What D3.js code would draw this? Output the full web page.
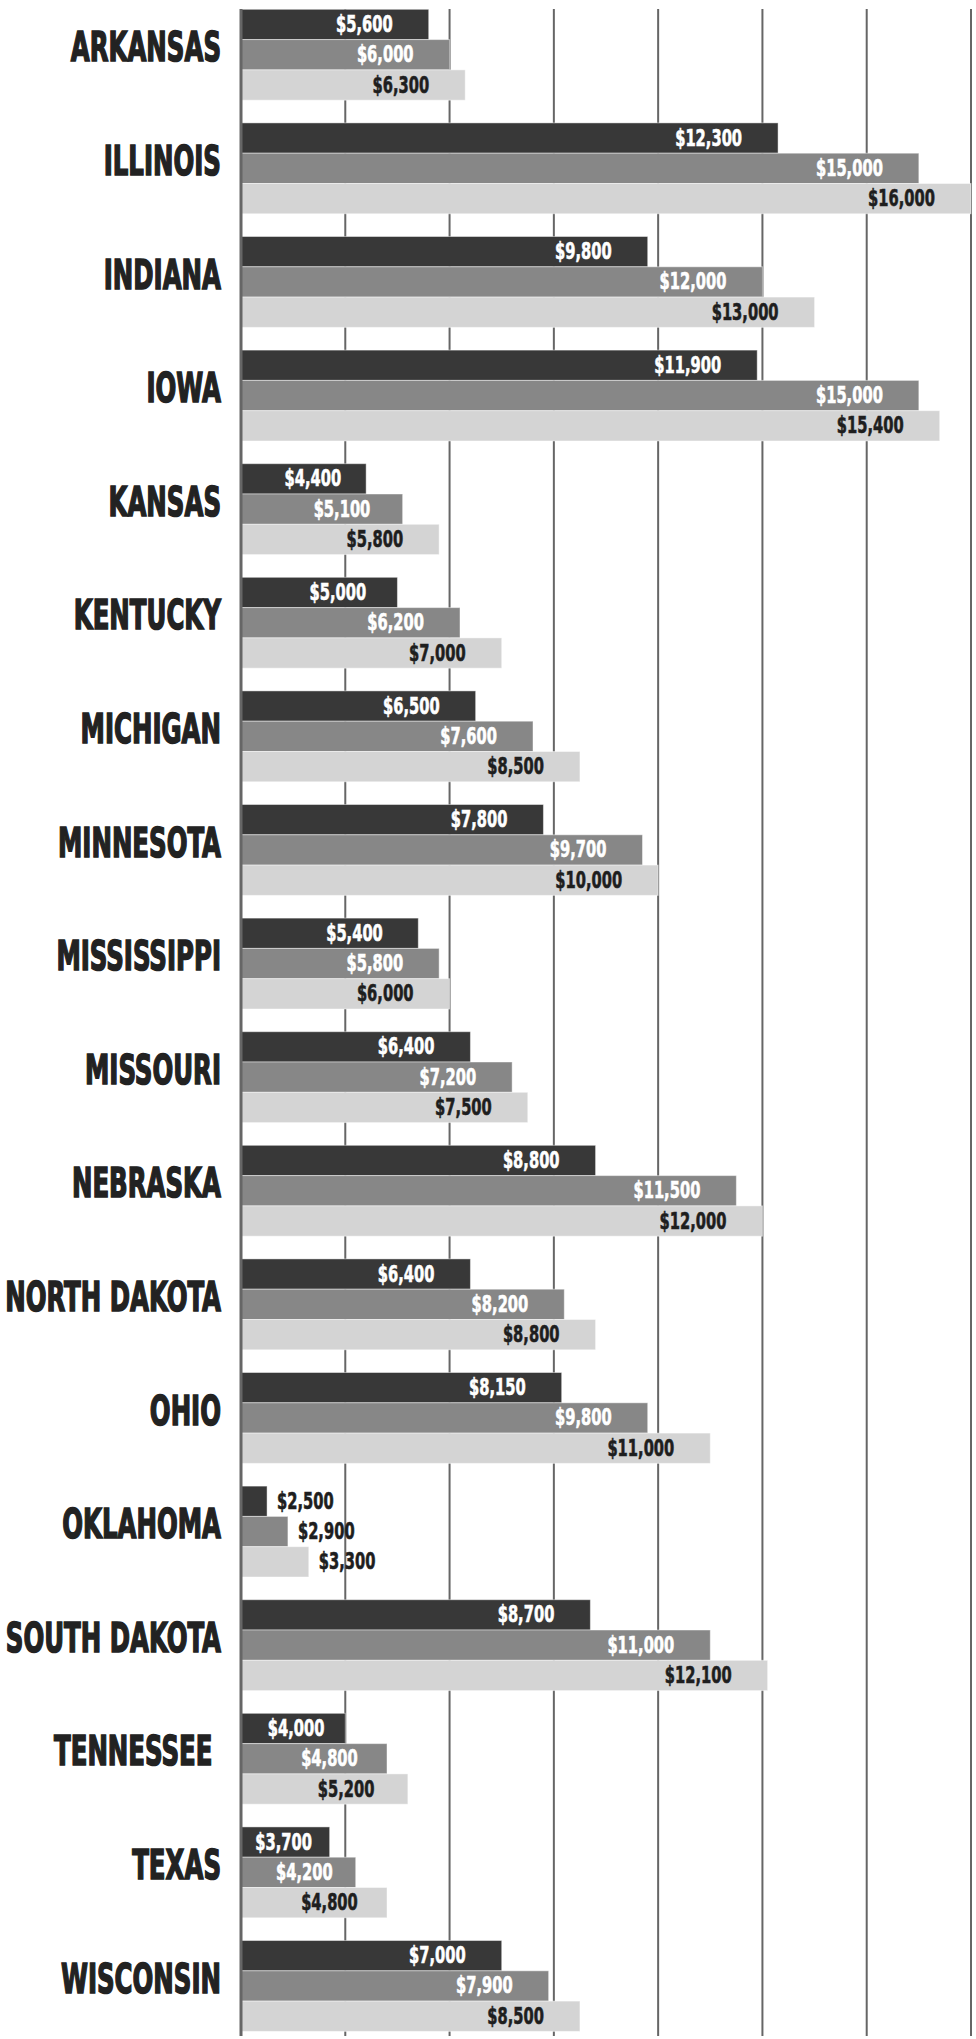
<!DOCTYPE html>
<html>
<head>
<meta charset="utf-8">
<script src="https://cdn.jsdelivr.net/npm/d3@7"></script>
<style>
  body { margin: 0; background: #fff; }
  svg { display: block; }
  text { white-space: pre; }
</style>
</head>
<body>
<svg id="chart" width="976" height="2039"></svg>
<script>
const states = ['ARKANSAS', 'ILLINOIS', 'INDIANA', 'IOWA', 'KANSAS', 'KENTUCKY', 'MICHIGAN',
    'MINNESOTA', 'MISSISSIPPI', 'MISSOURI', 'NEBRASKA', 'NORTH DAKOTA', 'OHIO', 'OKLAHOMA',
    'SOUTH DAKOTA', 'TENNESSEE ', 'TEXAS', 'WISCONSIN'];
const seriesDark = [5600, 12300, 9800, 11900, 4400, 5000, 6500, 7800, 5400, 6400, 8800, 6400, 8150, 2500, 8700, 4000, 3700, 7000];
const seriesMid = [6000, 15000, 12000, 15000, 5100, 6200, 7600, 9700, 5800, 7200, 11500, 8200, 9800, 2900, 11000, 4800, 4200, 7900];
const seriesLight = [6300, 16000, 13000, 15400, 5800, 7000, 8500, 10000, 6000, 7500, 12000, 8800, 11000, 3300, 12100, 5200, 4800, 8500];
const gridTicks = [4000, 6000, 8000, 10000, 12000, 14000, 16000];

const build = () => {
    const svg = d3.select('#chart');

    const series = [seriesDark, seriesMid, seriesLight];
    const fills = ['#383838', '#878787', '#d4d4d4'];
    const textFills = ['#ffffff', '#ffffff', '#1e1e1e'];
    const font = '"Liberation Sans Narrow", "DejaVu Sans Condensed", sans-serif';

    const rows = [];
    states.forEach((s, i) => {
        series.forEach((vals, k) => rows.push({state: s, k: k, value: vals[i]}));
    });

    const xScale = d3.scaleLinear()
        .domain([2000, 16000])
        .range([241, 971]);

    const yScale = d3.scaleBand()
        .domain(states)
        .range([9.3, 2031.4])
        .paddingInner(0.2)
        .paddingOuter(0);

    const subScale = d3.scaleBand()
        .domain([0, 1, 2])
        .range([0, yScale.bandwidth()]);

    // grid lines
    svg.append('g')
        .selectAll('line')
        .data(gridTicks)
        .enter()
        .append('line')
        .attr('x1', d => xScale(d))
        .attr('x2', d => xScale(d))
        .attr('y1', 9)
        .attr('y2', 2036)
        .attr('stroke', '#666')
        .attr('stroke-width', 2);

    // bars
    svg.append('g')
        .selectAll('rect')
        .data(rows)
        .enter()
        .append('rect')
        .attr('x', xScale(2000))
        .attr('y', d => yScale(d.state) + subScale(d.k))
        .attr('width', d => xScale(d.value) - xScale(2000))
        .attr('height', subScale.bandwidth())
        .attr('fill', d => fills[d.k])
        .attr('stroke', 'rgba(255,255,255,0.45)')
        .attr('stroke-width', 1);

    // axis line
    svg.append('line')
        .attr('x1', 241).attr('x2', 241)
        .attr('y1', 9).attr('y2', 2036)
        .attr('stroke', '#666')
        .attr('stroke-width', 3);

    // value labels
    const fmt = d3.format(',');
    const labelX = d => {
        const w = xScale(d.value) - xScale(2000);
        if (d.value < 3500) return xScale(d.value) + 10;
        return xScale(d.value) - Math.min(0.2 * w, 36);
    };
    svg.append('g')
        .selectAll('text')
        .data(rows)
        .enter()
        .append('text')
        .attr('transform', d => 'translate(' + labelX(d) + ',' +
            (yScale(d.state) + subScale(d.k) + subScale.bandwidth() / 2 + 7.5) + ') scale(0.71,1)')
        .attr('text-anchor', d => d.value < 3500 ? 'start' : 'end')
        .attr('font-family', font)
        .attr('font-weight', 'bold')
        .attr('font-size', 23)
        .attr('fill', d => d.value < 3500 ? '#1e1e1e' : textFills[d.k])
        .attr('stroke', d => d.value < 3500 ? '#1e1e1e' : textFills[d.k])
        .attr('stroke-width', 0.6)
        .text(d => '$' + fmt(d.value));

    // state labels
    svg.append('g')
        .selectAll('text')
        .data(states)
        .enter()
        .append('text')
        .attr('transform', d => 'translate(221,' + (yScale(d) + 52) + ') scale(0.68,1)')
        .attr('text-anchor', 'end')
        .attr('font-family', font)
        .attr('font-weight', 'bold')
        .attr('font-size', 40)
        .attr('fill', '#222')
        .attr('stroke', '#222')
        .attr('stroke-width', 1.5)
        .text(d => d);
};

build();
</script>
</body>
</html>
